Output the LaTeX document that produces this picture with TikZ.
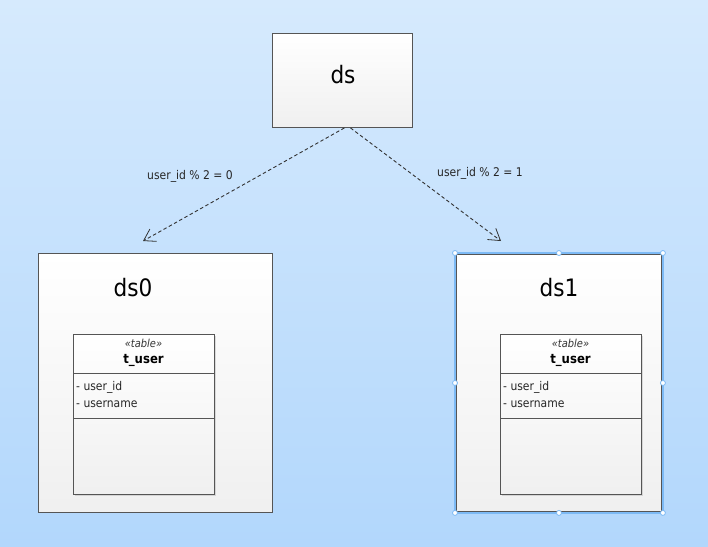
\documentclass[tikz,border=0pt]{standalone}
\usepackage{fontspec}
\setmainfont{DejaVu Sans Condensed}
\usetikzlibrary{arrows.meta,shadows}
\definecolor{bgtop}{HTML}{D6EAFD}
\definecolor{bgbot}{HTML}{B2D7FC}
\definecolor{edge}{HTML}{555555}
\definecolor{selblue}{HTML}{7DBAF5}
\tikzset{
  pkg/.style={draw=edge, line width=0.9pt, top color=white, bottom color=black!6, inner sep=0pt},
  tbl/.style={draw=edge, line width=0.9pt, fill=white, top color=white, bottom color=black!6,
    drop shadow={shadow xshift=2pt, shadow yshift=-2pt, opacity=0.25}},
  lbl/.style={font=\fontsize{12}{14}\selectfont, text=black!85},
  dep/.style={dash pattern=on 3.5pt off 2.5pt, line width=0.9pt, draw=black!80,
    -{Straight Barb[length=11pt,width=14pt,line width=0.8pt]}},
  handle/.style={circle, draw=selblue, fill=white, line width=0.8pt, inner sep=0pt, minimum size=5pt},
}
\begin{document}
\begin{tikzpicture}[x=1pt,y=-1pt]
\useasboundingbox (0,0) rectangle (708,546);
\shade[top color=bgtop, bottom color=bgbot] (0,0) rectangle (708,546);

% ds
\node[pkg, minimum width=140pt, minimum height=94pt, anchor=north west] (ds) at (272,33) {};
\node[font=\fontsize{24}{28}\selectfont] (dst) at (343,75) {ds};

% ds0
\node[pkg, minimum width=234pt, minimum height=259pt, anchor=north west] (ds0) at (38,253) {};
\node[font=\fontsize{24}{28}\selectfont] (ds0t) at (133,288) {ds0};

% ds1
\node[pkg, minimum width=207pt, minimum height=259pt, anchor=north west] (ds1) at (455,253) {};
\draw[selblue, line width=2.5pt] (ds1.north west) rectangle (ds1.south east);
\draw[edge, line width=0.9pt] ([xshift=1.5pt,yshift=-1.5pt]ds1.north west) rectangle ([xshift=-1.5pt,yshift=1.5pt]ds1.south east);
\node[font=\fontsize{24}{28}\selectfont] (ds1t) at (559,288) {ds1};
\foreach \p/\n in {north west/a,north/b,north east/c,west/d,east/e,south west/f,south/g,south east/h}
  \node[handle] (h\n) at (ds1.\p) {};

% tables
\foreach \X/\nm in {73/L,500/R}{
  \node[tbl, minimum width=141pt, minimum height=160pt, anchor=north west, inner sep=0pt] (tb\nm) at (\X,334) {};
  \draw[edge, line width=0.9pt] (\X,373) -- ++(141,0) coordinate (d1\nm);
  \draw[edge, line width=0.9pt] (\X,418) -- ++(141,0) coordinate (d2\nm);
  \node[font=\itshape\fontsize{11}{13}\selectfont, text=black!80] (st\nm) at (\X+70.5,343) {«table»};
  \node[font=\bfseries\fontsize{13}{15}\selectfont] (nm\nm) at (\X+70.5,360) {t\_user};
  \node[lbl, anchor=west, inner sep=0pt] (a\nm) at (\X+3,387) {- user\_id};
  \node[lbl, anchor=west, inner sep=0pt] (b\nm) at (\X+3,404) {- username};
}

% arrows
\coordinate (e0) at (143,241);
\coordinate (e1) at (501,241);
\draw[dep] ([xshift=2pt]ds.south) -- (e0);
\draw[dep] ([xshift=8pt]ds.south) -- (e1);
\node[lbl] (l0) at (190,176) {user\_id \% 2 = 0};
\node[lbl] (l1) at (480,173) {user\_id \% 2 = 1};
\end{tikzpicture}
\end{document}
